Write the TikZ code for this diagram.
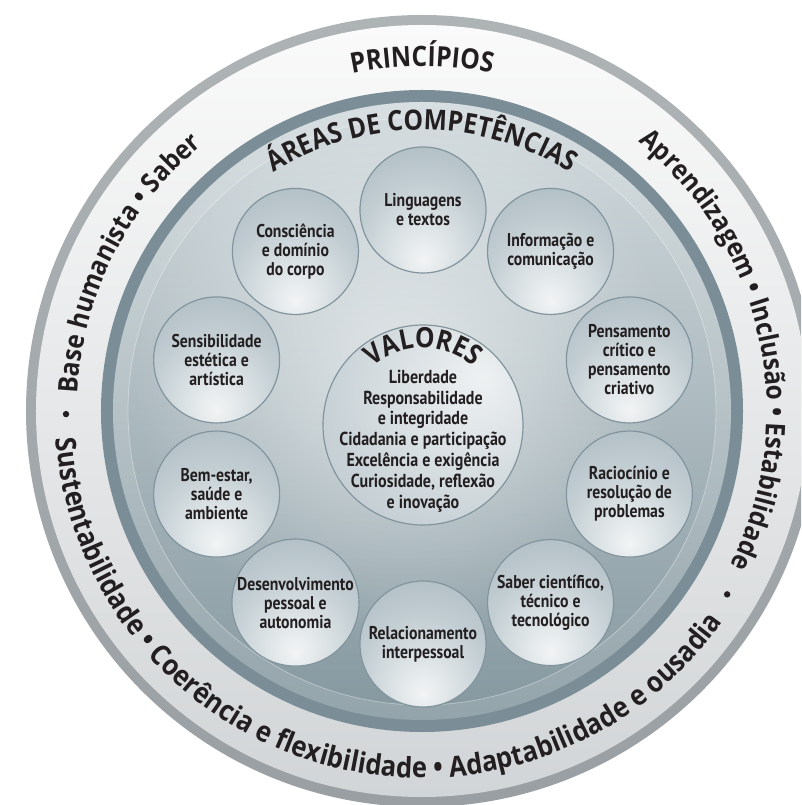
\documentclass[tikz,border=0pt]{standalone}
\usepackage{fontspec}
\usetikzlibrary{decorations.text,calc,fadings}
\newfontfamily\ringfont[FakeStretch=0.9]{Open Sans}
\newfontfamily\headfont[FakeStretch=0.88]{Open Sans}
\newfontfamily\condfont[FakeStretch=0.85]{PT Sans}
\definecolor{txt}{HTML}{231F20}
\definecolor{og1}{HTML}{AEB3B6}
\definecolor{og2}{HTML}{9A9FA3}
\definecolor{wb1}{HTML}{FAFAFA}
\definecolor{wb2}{HTML}{D2D5D7}
\definecolor{darkband}{HTML}{7B8E98}
\definecolor{cborder}{HTML}{82959E}
\definecolor{dl}{HTML}{D3DBDE}
\definecolor{dd}{HTML}{85989F}
\definecolor{b0}{HTML}{F2F4F5}
\definecolor{b1}{HTML}{E0E6E8}
\definecolor{b2}{HTML}{C3CED3}
\definecolor{b3}{HTML}{A9B8BF}
\definecolor{b4}{HTML}{9AACB4}
\definecolor{v0}{HTML}{EEF1F2}
\definecolor{v1}{HTML}{D8DFE2}
\definecolor{v2}{HTML}{BAC6CC}
\definecolor{v3}{HTML}{A3B3BA}
\pgfdeclareradialshading{ballshade}{\pgfpoint{0bp}{-20bp}}{color(0bp)=(b0); color(10bp)=(b1); color(25bp)=(b2); color(45bp)=(b3); color(70bp)=(b4); color(90bp)=(b4)}
\pgfdeclareradialshading{valshade}{\pgfpoint{15bp}{12bp}}{color(0bp)=(v0); color(20bp)=(v1); color(45bp)=(v2); color(70bp)=(v3); color(90bp)=(v3)}
\tikzfading[name=glowfade, inner color=transparent!0, outer color=transparent!100]
\tikzset{
  ball/.style={circle, minimum size=126pt, inner sep=0pt, shading=ballshade, draw=cborder, line width=1.2pt, align=center, text=txt, font=\condfont\bfseries\fontsize{18.5}{19}\selectfont},
  valball/.style={circle, minimum size=200pt, inner sep=0pt, shading=valshade, draw=cborder, line width=1.2pt},
  valtext/.style={align=center, text=txt, font=\condfont\bfseries\fontsize{18.8}{20.8}\selectfont},
  ringtext/.style={decorate, decoration={text along path, text align=center, text color=txt, text={|\ringfont\bfseries\fontsize{27}{30}\selectfont|#1}}},
  ringtextb/.style={decorate, decoration={text along path, text align=center, text color=txt, text={|\ringfont\bfseries\fontsize{28.5}{30}\selectfont|#1}}},
  headtext/.style={decorate, decoration={text along path, text align=center, text color=txt, text={|\headfont\bfseries\fontsize{28}{30}\selectfont|#1}}},
  valtitle/.style={decorate, decoration={text along path, text align=center, text color=txt, text={|\headfont\bfseries\fontsize{28}{30}\selectfont|#1}}},
  junction/.style={fill=txt}
}
\begin{document}
\begin{tikzpicture}[x=1pt,y=1pt]
\useasboundingbox (-422,-394) rectangle (379,411);
\clip (-422,-394) rectangle (379,411);
% outer ring
\path[top color=og1, bottom color=og2] (0,0) circle (396);
\path[top color=wb1, bottom color=wb2] (0,0) circle (386);
% inner disk
\fill[darkband] (0,0) circle (321);
\path[shading angle=45, top color=dl, bottom color=dd] (0,0) circle (309);
\fill[white, opacity=0.6, path fading=glowfade] (-20,40) circle (270);
\fill[white, opacity=0.12, even odd rule] (0,0) circle (309) (0,0) circle (294);
\draw[white, opacity=0.35, line width=0.8pt] (0,0) circle (294);
% ring texts
\path[ringtext={Base humanista • Saber}] (183.35:345) arc[start angle=183.35, end angle=123.35, radius=345];
\path[headtext={PRINCÍPIOS}] (110:345) arc[start angle=110, end angle=70, radius=345];
\path[ringtext={Aprendizagem • Inclusão • Estabilidade}] (59.35:345) arc[start angle=59.35, end angle=-34.65, radius=345];
\path[ringtextb={Sustentabilidade • Coerência e flexibilidade • Adaptabilidade e ousadia}] (172.65:367) arc[start angle=172.65, end angle=336.65, radius=367];
\fill[junction] (180.5:356) circle (3.2);
\fill[junction] (-31:356) circle (3.2);
% title of areas
\path[headtext={ÁREAS DE COMPETÊNCIAS}] (132:281) arc[start angle=132, end angle=48, radius=281];
% competence circles
\coordinate (ctr) at (1,-16);
\node[ball] (c1) at ($(ctr)+(90:217)$) {Linguagens\\e textos};
\node[ball] (c2) at ($(ctr)+(54:217)$) {Informação e\\comunicação};
\node[ball] (c3) at ($(ctr)+(18:217)$) {Pensamento\\crítico e\\pensamento\\criativo};
\node[ball] (c4) at ($(ctr)+(-18:217)$) {Raciocínio e\\resolução de\\problemas};
\node[ball] (c5) at ($(ctr)+(-54:217)$) {Saber científico,\\técnico e\\tecnológico};
\node[ball] (c6) at ($(ctr)+(-90:217)$) {Relacionamento\\interpessoal};
\node[ball] (c7) at ($(ctr)+(-126:217)$) {Desenvolvimento\\pessoal e\\autonomia};
\node[ball] (c8) at ($(ctr)+(-162:217)$) {Bem-estar,\\saúde e\\ambiente};
\node[ball] (c9) at ($(ctr)+(162:217)$) {Sensibilidade\\estética e\\artística};
\node[ball] (c10) at ($(ctr)+(126:217)$) {Consciência\\e domínio\\do corpo};
% valores
\node[valball] (val) at (1,-14) {};
\path[valtitle={VALORES}] ($(val)+(140:77)$) arc[start angle=140, end angle=40, radius=77];
\node[valtext] (vt) at (1,-30) {Liberdade\\Responsabilidade\\e integridade\\Cidadania e participação\\Excelência e exigência\\Curiosidade, reflexão\\e inovação};
\end{tikzpicture}
\end{document}
